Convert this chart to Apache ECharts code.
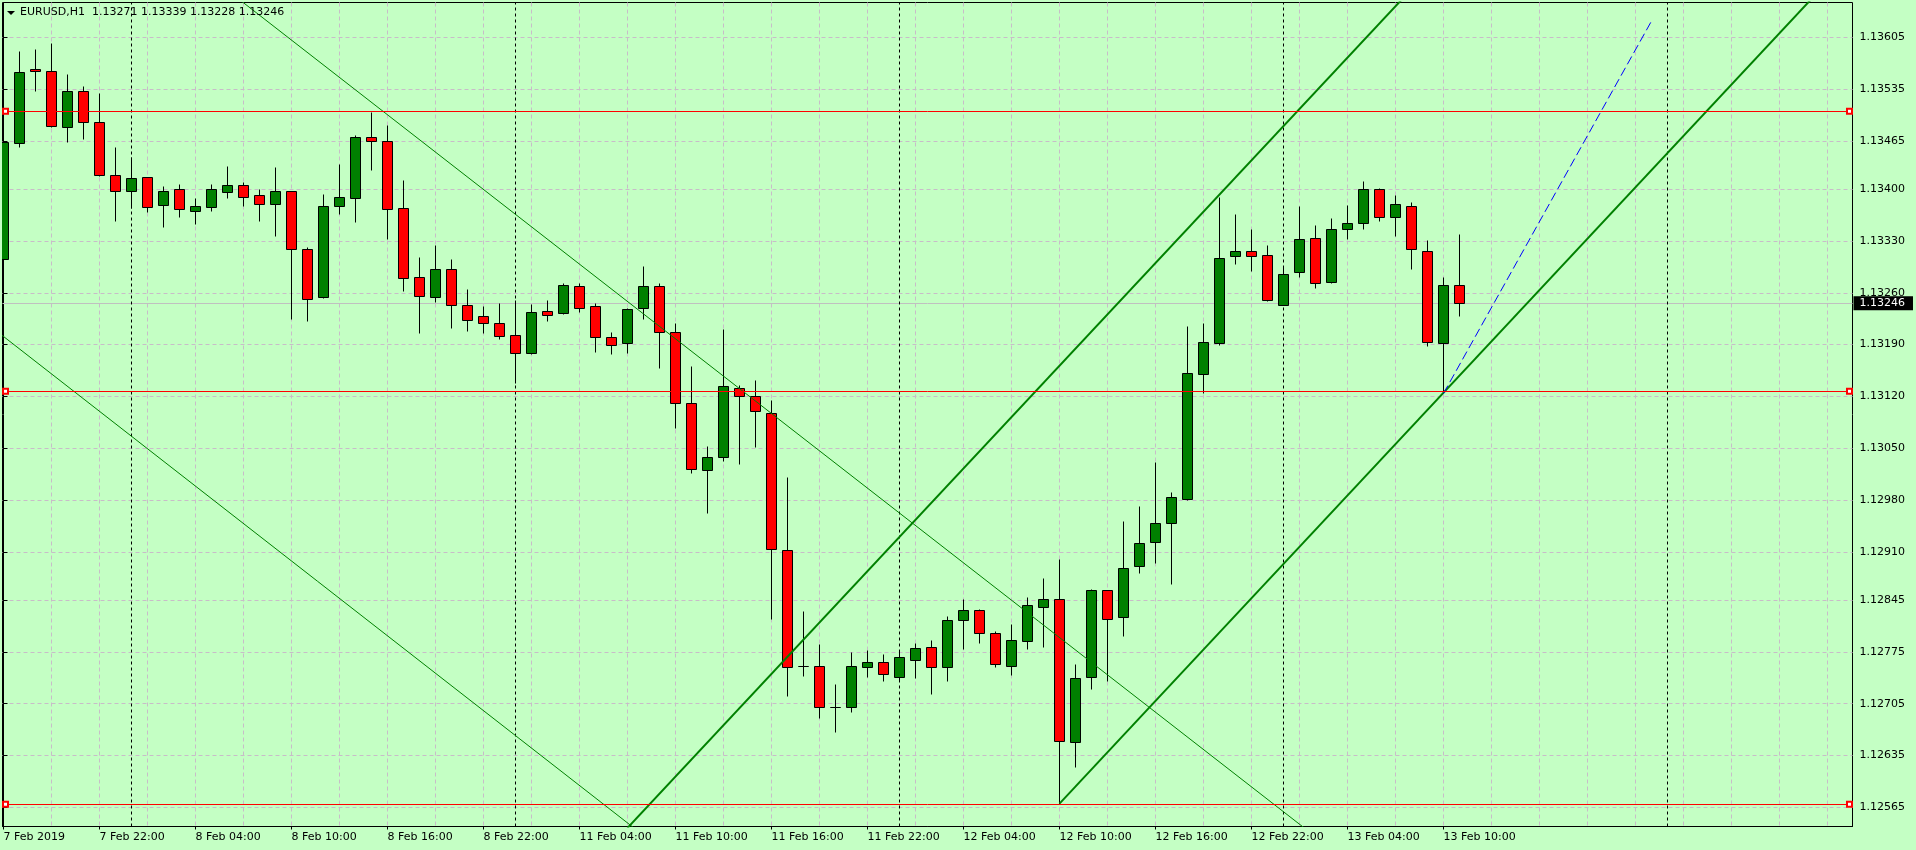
<!DOCTYPE html>
<html>
<head>
<meta charset="utf-8">
<script src="https://cdn.jsdelivr.net/npm/echarts@6.0.0/dist/echarts.min.js"></script>
<style>
html,body{margin:0;padding:0;background:#c4ffc4;overflow:hidden;}
#c{width:1916px;height:850px;}
</style>
</head>
<body>
<div id="c"></div>
<script>
// ---------------- data ----------------
const symbolName = 'EURUSD,H1';
const quote = ['1.13271', '1.13339', '1.13228', '1.13246'];

// hourly bars, index 0 = 7 Feb 2019 16:00
const opens = [1.13305,1.13462,1.13562,1.13560,1.13484,1.13532,1.13490,1.13419,1.13398,1.13416,
1.13378,1.13400,1.13371,1.13376,1.13396,1.13406,1.13392,1.13380,1.13397,1.13319,
1.13254,1.13377,1.13388,1.13470,1.13465,1.13374,1.13281,1.13254,1.13292,1.13244,
1.13229,1.13219,1.13203,1.13178,1.13235,1.13232,1.13269,1.13242,1.13200,1.13192,
1.13239,1.13269,1.13207,1.13111,1.13020,1.13038,1.13132,1.13120,1.13098,1.12912,
1.12756,1.12756,1.12701,1.12701,1.12755,1.12761,1.12741,1.12764,1.12781,1.12755,
1.12818,1.12832,1.12801,1.12756,1.12789,1.12835,1.12846,1.12653,1.12741,1.12858,
1.12822,1.12891,1.12923,1.12949,1.12982,1.13150,1.13192,1.13310,1.13317,1.13311,
1.13244,1.13288,1.13334,1.13275,1.13346,1.13354,1.13400,1.13363,1.13377,1.13316,
1.13192,1.13271];
const closes = [1.13464,1.13558,1.13559,1.13485,1.13532,1.13490,1.13419,1.13398,1.13415,1.13376,
1.13398,1.13373,1.13377,1.13400,1.13406,1.13390,1.13380,1.13397,1.13319,1.13251,
1.13377,1.13389,1.13470,1.13465,1.13373,1.13280,1.13255,1.13292,1.13243,1.13223,
1.13219,1.13201,1.13178,1.13234,1.13230,1.13270,1.13240,1.13200,1.13190,1.13238,
1.13269,1.13207,1.13111,1.13022,1.13038,1.13134,1.13120,1.13100,1.12914,1.12755,
1.12756,1.12701,1.12701,1.12756,1.12761,1.12745,1.12768,1.12780,1.12755,1.12818,
1.12831,1.12800,1.12758,1.12791,1.12838,1.12847,1.12654,1.12739,1.12858,1.12819,
1.12888,1.12922,1.12949,1.12984,1.13151,1.13193,1.13307,1.13316,1.13310,1.13250,
1.13286,1.13332,1.13273,1.13346,1.13354,1.13400,1.13363,1.13380,1.13319,1.13193,
1.13271,1.13246];
const highs = [1.13466,1.13587,1.13589,1.13598,1.13555,1.13539,1.13530,1.13457,1.13443,1.13417,
1.13404,1.13407,1.13388,1.13407,1.13431,1.13409,1.13400,1.13430,1.13398,1.13322,
1.13393,1.13434,1.13473,1.13504,1.13487,1.13412,1.13308,1.13325,1.13306,1.13265,
1.13242,1.13246,1.13250,1.13245,1.13250,1.13273,1.13273,1.13246,1.13207,1.13239,
1.13296,1.13273,1.13219,1.13161,1.13053,1.13211,1.13135,1.13142,1.13115,1.13011,
1.12830,1.12785,1.12732,1.12775,1.12778,1.12772,1.12776,1.12787,1.12791,1.12824,
1.12846,1.12833,1.12803,1.12812,1.12849,1.12875,1.12900,1.12758,1.12860,1.12859,
1.12952,1.12972,1.13031,1.12991,1.13215,1.13219,1.13390,1.13366,1.13346,1.13324,
1.13296,1.13377,1.13351,1.13361,1.13379,1.13411,1.13401,1.13392,1.13382,1.13331,
1.13281,1.13339];
const lows = [1.13300,1.13457,1.13533,1.13484,1.13464,1.13468,1.13418,1.13357,1.13374,1.13369,
1.13349,1.13363,1.13353,1.13371,1.13388,1.13377,1.13357,1.13336,1.13224,1.13222,
1.13253,1.13367,1.13355,1.13426,1.13332,1.13263,1.13206,1.13247,1.13213,1.13209,
1.13206,1.13198,1.13138,1.13177,1.13222,1.13231,1.13234,1.13180,1.13177,1.13179,
1.13224,1.13159,1.13078,1.13016,1.12963,1.13033,1.13029,1.13052,1.12820,1.12716,
1.12743,1.12685,1.12667,1.12694,1.12741,1.12736,1.12736,1.12740,1.12718,1.12735,
1.12779,1.12787,1.12755,1.12744,1.12779,1.12782,1.12570,1.12620,1.12725,1.12736,
1.12797,1.12882,1.12895,1.12867,1.12980,1.13125,1.13190,1.13299,1.13290,1.13249,
1.13243,1.13281,1.13266,1.13273,1.13332,1.13346,1.13357,1.13337,1.13292,1.13188,
1.13124,1.13228];

// x-axis tick labels (bar index -> text)
const xTickBars = [0,6,12,18,24,30,36,42,48,54,60,66,72,78,84,90];
const xTickLabels = ['7 Feb 2019','7 Feb 22:00','8 Feb 04:00','8 Feb 10:00','8 Feb 16:00',
'8 Feb 22:00','11 Feb 04:00','11 Feb 10:00','11 Feb 16:00','11 Feb 22:00',
'12 Feb 04:00','12 Feb 10:00','12 Feb 16:00','12 Feb 22:00','13 Feb 04:00','13 Feb 10:00'];
const xGridBars = [0,3,6,9,12,15,18,21,24,27,30,33,36,39,42,45,48,51,54,57,60,63,66,69,72,75,
78,81,84,87,90,93,96,99,102,105,108,111,114];
const daySeparatorBars = [8, 32, 56, 80, 104];

// price axis tick labels
const yTicks = [1.12565,1.12635,1.12705,1.12775,1.12845,1.12910,1.12980,1.13050,
1.13120,1.13190,1.13260,1.13330,1.13400,1.13465,1.13535,1.13605];

// horizontal levels and current bid
const redLevels = [1.13505, 1.13127, 1.12569];
const bidPrice = 1.13246;

// trend lines: anchor points [bar, price]
const trendThinUpper = [[14, 1.136685], [82, 1.125254]];
const trendThinLower = [[-1, 1.132178], [40, 1.125271]];
const channelUpper = [[39, 1.125372], [88, 1.136701]];
const channelLower = [[66, 1.12570], [114, 1.13680]];
const blueDashed = [[90, 1.13124], [103, 1.13627]];

// ---------------- chart ----------------
const FONT = 'DejaVu Sans';
const X_MIN = -0.0625, X_MAX = 115.5625;
const Y_MIN = 1.12539103, Y_MAX = 1.13652043;

const candles = opens.map((o, i) => [i, o, closes[i], lows[i], highs[i]]);

function renderCandle(params, api) {
  const b = api.value(0), o = api.value(1), c = api.value(2), l = api.value(3), h = api.value(4);
  const pO = api.coord([b, o]), pC = api.coord([b, c]);
  const pL = api.coord([b, l]), pH = api.coord([b, h]);
  const cx = Math.floor(pO[0]) + 0.5;
  const half = Math.round(api.size([1, 0])[0] * 0.3125);
  const yTop = Math.round(Math.min(pO[1], pC[1])) + 0.5;
  const yBot = Math.round(Math.max(pO[1], pC[1])) + 0.5;
  const yH = Math.round(pH[1]) + 0.5, yL = Math.round(pL[1]) + 0.5;
  const fill = c > o ? '#008000' : (c < o ? '#ff0000' : '#000000');
  return {
    type: 'group',
    children: [
      {type: 'line', shape: {x1: cx, y1: yH, x2: cx, y2: yL}, style: {stroke: '#000', lineWidth: 1}},
      {type: 'rect', shape: {x: cx - half, y: yTop, width: half * 2, height: Math.max(0, yBot - yTop)},
       style: {fill: fill, stroke: '#000', lineWidth: 1}}
    ]
  };
}

function trendSeries(name, data, color, width, type) {
  return {
    name: name, type: 'line', data: data, xAxisIndex: 0, yAxisIndex: 0,
    showSymbol: false, symbol: 'none', silent: true, z: 4, clip: true,
    lineStyle: {color: color, width: width, type: type || 'solid'},
    animation: false
  };
}

const chart = echarts.init(document.getElementById('c'), null, {renderer: 'canvas', width: 1916, height: 850});
chart.setOption({
  animation: false,
  backgroundColor: '#c4ffc4',
  textStyle: {fontFamily: FONT},
  title: {
    text: symbolName + '  ' + quote.join(' '),
    left: 20, top: 6, padding: 0,
    textStyle: {fontFamily: FONT, fontSize: 11, fontWeight: 'normal', color: '#000', lineHeight: 13}
  },
  graphic: [{
    type: 'polygon', silent: true,
    shape: {points: [[7, 11], [15, 11], [11, 15]]},
    style: {fill: '#000'}
  }],
  grid: {
    left: 2.5, top: 2.5, right: 63.5, bottom: 23.5,
    show: true, borderColor: '#000', borderWidth: 1, backgroundColor: 'transparent',
    containLabel: false, outerBoundsMode: 'none'
  },
  xAxis: [{
    type: 'value', min: X_MIN, max: X_MAX, position: 'bottom',
    axisLine: {show: true, lineStyle: {color: '#000', width: 1}},
    axisTick: {show: false, customValues: xGridBars},
    axisLabel: {show: false, customValues: xGridBars},
    splitLine: {show: true, lineStyle: {color: '#c8bcc8', width: 1, type: [4, 3]}}
  }, {
    type: 'value', min: X_MIN, max: X_MAX, position: 'bottom',
    axisLine: {show: false},
    axisTick: {show: true, customValues: xTickBars, length: 3, lineStyle: {color: '#000'}},
    axisLabel: {
      show: true, customValues: xTickBars, align: 'left', margin: 5,
      fontFamily: FONT, fontSize: 11, color: '#000',
      formatter: function (v) { const k = xTickBars.indexOf(Math.round(v)); return k >= 0 ? xTickLabels[k] : ''; }
    },
    splitLine: {show: false}
  }],
  yAxis: [{
    type: 'value', min: Y_MIN, max: Y_MAX, position: 'right', scale: true,
    axisLine: {show: true, lineStyle: {color: '#000', width: 1}},
    axisTick: {show: true, customValues: yTicks, length: 4, lineStyle: {color: '#000'}},
    axisLabel: {
      show: true, customValues: yTicks, margin: 7,
      fontFamily: FONT, fontSize: 11, color: '#000',
      formatter: function (v) { return v.toFixed(5); }
    },
    splitLine: {show: true, lineStyle: {color: '#c8bcc8', width: 1, type: [4, 3]}}
  }],
  series: [
    {
      name: 'bid', type: 'line', data: [[91, bidPrice]], xAxisIndex: 0, yAxisIndex: 0,
      showSymbol: false, symbol: 'none', silent: true, clip: false, z: 1,
      lineStyle: {opacity: 0},
      markLine: {
        silent: true, z: 1, precision: 6, symbol: ['none', 'none'],
        lineStyle: {color: '#c0c0c0', width: 1, type: 'solid'},
        label: {
          show: true, position: 'end', distance: 1,
          color: '#fff', backgroundColor: '#000', padding: [1, 8, 0, 6],
          fontFamily: FONT, fontSize: 11, lineHeight: 13,
          formatter: function (p) { return Number(p.value).toFixed(5); }
        },
        data: [{yAxis: bidPrice}]
      }
    },
    {
      name: 'EURUSD', type: 'custom', data: candles, xAxisIndex: 0, yAxisIndex: 0,
      encode: {x: 0, y: [1, 2, 3, 4]},
      renderItem: renderCandle, clip: true, z: 2, silent: true,
      markLine: {
        silent: true, z: 1, precision: 6, symbol: ['none', 'none'], label: {show: false},
        lineStyle: {color: '#000', width: 1, type: [3, 3]},
        data: daySeparatorBars.map(b => ({xAxis: b}))
      }
    },
    trendSeries('thinUpper', trendThinUpper, '#008000', 1),
    trendSeries('thinLower', trendThinLower, '#008000', 1),
    trendSeries('channelUpper', channelUpper, '#008000', 2),
    trendSeries('channelLower', channelLower, '#008000', 2),
    trendSeries('blueDashed', blueDashed, '#0000ff', 1, [9, 4]),
    {
      name: 'levels', type: 'line', data: [[91, bidPrice]], xAxisIndex: 0, yAxisIndex: 0,
      showSymbol: false, symbol: 'none', silent: true, clip: false, z: 5,
      lineStyle: {opacity: 0},
      markLine: {
        silent: true, z: 5, precision: 6, symbol: ['emptyRect', 'emptyRect'], symbolSize: 5,
        symbolOffset: [[0, 3], [0, 3]],
        label: {show: false},
        lineStyle: {color: '#ff0000', width: 1, type: 'solid'},
        data: redLevels.map(v => ({yAxis: v}))
      }
    }
  ]
});
</script>
</body>
</html>
